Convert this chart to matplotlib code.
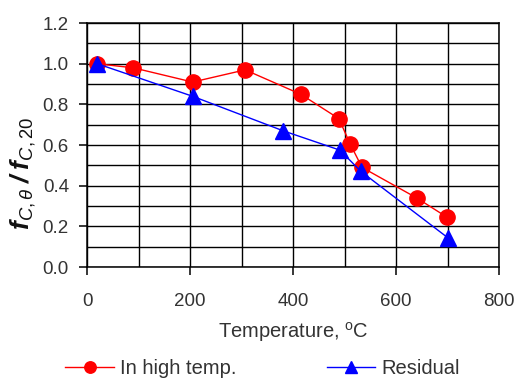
import matplotlib
matplotlib.use("Agg")
import matplotlib.pyplot as plt
from matplotlib.ticker import MultipleLocator, FormatStrFormatter

# data
temp_hot = [20, 90, 205, 307, 415, 489, 511, 534, 640, 699]
ratio_hot = [1.00, 0.98, 0.91, 0.97, 0.85, 0.73, 0.605, 0.49, 0.34, 0.245]

temp_res = [20, 205, 381, 491, 532, 700]
ratio_res = [1.00, 0.84, 0.67, 0.575, 0.47, 0.145]

plt.rcParams["font.family"] = ["Liberation Sans", "DejaVu Sans"]
plt.rcParams["mathtext.fontset"] = "custom"
plt.rcParams["mathtext.rm"] = "Liberation Sans"
plt.rcParams["mathtext.it"] = "Liberation Sans:italic"
plt.rcParams["mathtext.bf"] = "Liberation Sans:bold"
plt.rcParams["mathtext.bfit"] = "Liberation Sans:bold:italic"

TXT = "#333333"

fig = plt.figure(figsize=(5.15, 3.79), dpi=100)
ax = fig.add_axes([0.169, 0.2955, 0.8, 0.6435])

ax.plot(temp_hot, ratio_hot, color="#ff0000", lw=1.0, marker="o",
        markersize=11, label="In high temp.", zorder=3)
ax.plot(temp_res, ratio_res, color="#0000ff", lw=1.0, marker="^",
        markersize=12, label="Residual", zorder=4)

ax.set_xlim(0, 800)
ax.set_ylim(0, 1.2)
ax.xaxis.set_major_locator(MultipleLocator(200))
ax.xaxis.set_minor_locator(MultipleLocator(100))
ax.yaxis.set_major_locator(MultipleLocator(0.2))
ax.yaxis.set_minor_locator(MultipleLocator(0.1))
ax.yaxis.set_major_formatter(FormatStrFormatter("%.1f"))

ax.grid(which="both", color="black", lw=1.0)
ax.set_axisbelow(True)
for s in ax.spines.values():
    s.set_color("black")
    s.set_linewidth(1.1)
ax.tick_params(which="major", direction="out", length=6, width=1.1,
               labelsize=13.5, labelcolor=TXT, pad=7)
ax.tick_params(which="minor", length=0)
ax.tick_params(axis="x", pad=13)

ax.set_xlabel("Temperature, $^\\mathrm{o}$C", fontsize=14.5, color=TXT,
              labelpad=7)
ax.set_ylabel(r"$\mathbfit{f}_{C,\theta}\;\mathbfit{/}\;\mathbfit{f}_{C,20}$",
              fontsize=19, color="#111111")
ax.yaxis.set_label_coords(-0.12, 0.385)

fig.legend(loc="center", bbox_to_anchor=(0.51, 0.027), ncol=2,
           frameon=False, fontsize=14.5, handlelength=2.4, markerscale=0.75,
           columnspacing=4.5, handletextpad=0.3, labelcolor=TXT)

fig.savefig("out.png", dpi=100)
